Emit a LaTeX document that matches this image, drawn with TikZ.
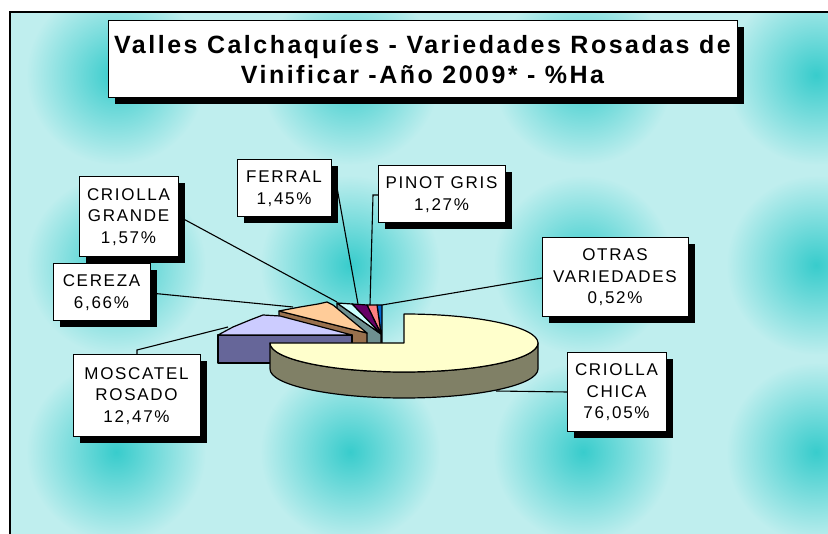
\documentclass[tikz,border=0pt]{standalone}
\usepackage{fontspec}
\setmainfont{Liberation Sans}
\newfontfamily\lblfont[LetterSpace=10]{Liberation Sans}
\newfontfamily\ttlfont[LetterSpace=10]{Liberation Sans}
\usepackage{tikz}
\usetikzlibrary{positioning}

\definecolor{bgc}{HTML}{BFEEEE}
\definecolor{spot}{HTML}{38CCCC}
\definecolor{chicatop}{HTML}{FFFFCC}
\definecolor{chicaside}{HTML}{808066}
\definecolor{moscatop}{HTML}{CCCCFF}
\definecolor{moscaside}{HTML}{666699}
\definecolor{cerezatop}{HTML}{FFCC99}
\definecolor{cerezaside}{HTML}{99704D}
\definecolor{grandetop}{HTML}{CCFFFF}
\definecolor{grandeside}{HTML}{6E8F8F}
\definecolor{ferraltop}{HTML}{660066}
\definecolor{ferralside}{HTML}{330033}
\definecolor{pinottop}{HTML}{FF8080}
\definecolor{otrastop}{HTML}{0066CC}

\tikzset{
  shdw/.style={preaction={fill=black, transform canvas={shift={(7pt,-6pt)}}}},
  lbl/.style={draw=black, line width=1pt, fill=white, inner sep=0pt, align=center, shdw,
    font=\lblfont\fontsize{17}{21.5}\selectfont},
  ttl/.style={draw=black, line width=1pt, fill=white, inner sep=0pt, align=center, shdw,
    font=\ttlfont\bfseries\fontsize{25}{30}\selectfont},
  lead/.style={line width=1.1pt},
  slice/.style={draw=black, line width=1.2pt, line join=round},
}

\begin{document}
\begin{tikzpicture}[x=1pt,y=1pt,yscale=-1,xscale=1]
\useasboundingbox (0,0) rectangle (828,534);

%Background texture
\begin{scope}
\clip (10,12) rectangle (828,534);
\fill[bgc] (10,12) rectangle (828,534);
\foreach \sx in {116,350,583,816}{
  \foreach \sy in {75,265,452}{
    \shade[inner color=spot, outer color=bgc] (\sx,\sy) circle[radius=90];
  }
}
\end{scope}
%Frame
\draw[line width=2pt] (10,534) -- (10,12) -- (828,12);

%Pie: small slices (back)
\draw[slice, fill=ferralside] (352,304) -- (381,334) -- (381,356) -- (352,326) -- cycle;
\draw[slice, fill=otrastop] (377,305) -- (382,305) -- (382,356) -- (381,334) -- cycle;
\draw[slice, fill=pinottop] (367,305) -- (377,305) -- (381,334) -- cycle;
\draw[slice, fill=ferraltop] (352,304) -- (367,305) -- (381,334) -- cycle;
\draw[slice, fill=grandeside] (337,303) -- (381,334) -- (381,356) -- (337,325) -- cycle;
\draw[slice, fill=grandetop] (337,303) -- (352,304) -- (381,334) -- cycle;
%Pie: Cereza
\draw[slice, fill=cerezaside] (279,311) -- (367,333) -- (367,356) -- (279,334) -- cycle;
\draw[slice, fill=cerezatop] (279,311) -- (300,307) -- (318,304) -- (327,302) -- (333,305) -- (367,333) -- cycle;
%Pie: Moscatel rosado
\draw[slice, fill=moscaside] (218,335) rectangle (352,363);
\draw[slice, fill=moscatop] (218,335) -- (233,327) -- (250,320) -- (263,315) -- (280,316) -- (352,335) -- cycle;
%Pie: Criolla chica (exploded)
\draw[slice, fill=chicaside] (538,343) arc[start angle=0, end angle=180, x radius=134, y radius=29]
  -- ++(0,26) arc[start angle=180, end angle=0, x radius=134, y radius=29] -- cycle;
\draw[slice, fill=chicatop] (404,343) -- ++(0,-29)
  arc[start angle=270, end angle=540, x radius=134, y radius=29] -- cycle;

%Leader ends
\coordinate (pGrande) at (337,302);
\coordinate (pCereza) at (293,307);
\coordinate (pMosca) at (228,327);
\coordinate (pFerral) at (358,304);
\coordinate (pPinot) at (370,305);
\coordinate (pOtras) at (382,305);
\coordinate (pChica) at (496,391);
\coordinate (kMosca) at (137,350);
\coordinate (kPinot) at (373,195);
\coordinate (kFerral) at (336,182);

% Leader lines
\draw[lead] (pGrande) -- (178,216);
\draw[lead] (pCereza) -- (150,293);
\draw[lead] (pMosca) -- (kMosca) -- (137,355);
\draw[lead] (pFerral) -- (kFerral);
\draw[lead] (pPinot) -- (kPinot) -- (378,195);
\draw[lead] (pOtras) -- (542,278);
\draw[lead] (pChica) -- (567,392);

% Title
\node[ttl, minimum width=629, minimum height=77] (title) at (422.5,59.5)
  {Valles Calchaquíes - Variedades Rosadas de\\Vinificar -Año 2009* - \%Ha};

% Text Node
\node[lbl, minimum width=99, minimum height=80] (grande) at (128.5,217) {CRIOLLA\\GRANDE\\1,57\%};
% Text Node
\node[lbl, minimum width=97, minimum height=57] (cereza) at (101.5,292.5) {CEREZA\\6,66\%};
% Text Node
\node[lbl, minimum width=94, minimum height=57] (ferral) at (284,188.5) {FERRAL\\1,45\%};
% Text Node
\node[lbl, minimum width=127, minimum height=57] (pinot) at (441.5,194.5) {PINOT GRIS\\1,27\%};
% Text Node
\node[lbl, minimum width=146, minimum height=79] (otras) at (615,277.5) {OTRAS\\VARIEDADES\\0,52\%};
% Text Node
\node[lbl, minimum width=99, minimum height=79] (chica) at (616.5,392.5) {CRIOLLA\\CHICA\\76,05\%};
% Text Node
\node[lbl, minimum width=127, minimum height=82] (mosca) at (136.5,396) {MOSCATEL\\ROSADO\\12,47\%};

\end{tikzpicture}
\end{document}
